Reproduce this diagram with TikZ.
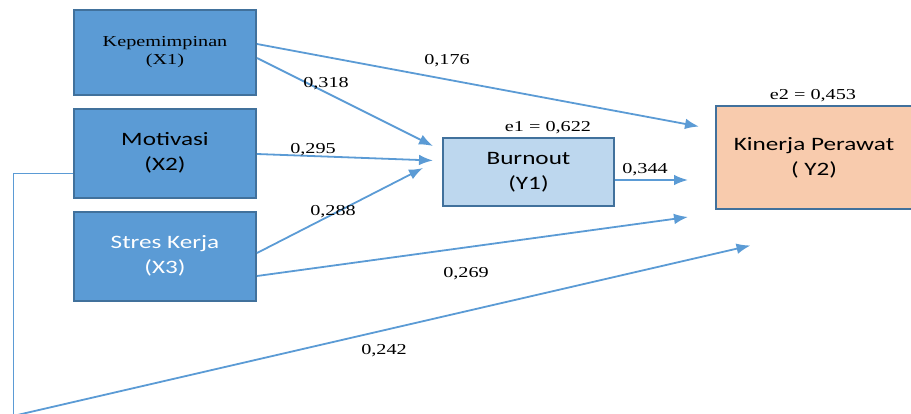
\documentclass[tikz,border=0pt]{standalone}
\usepackage{fontspec}
\setmainfont{Liberation Serif}[FakeStretch=1.33]
\newfontfamily\boxfont{Carlito}[FakeStretch=1.33]
\usepackage{xcolor}
\usetikzlibrary{arrows.meta,positioning}

\definecolor{varblue}{HTML}{5B9BD5}
\definecolor{varedge}{HTML}{41719C}
\definecolor{medblue}{HTML}{BDD7EE}
\definecolor{outpeach}{HTML}{F8CBAD}

\begin{document}
\begin{tikzpicture}[
    x=0.75pt, y=-0.75pt,
    varbox/.style={rectangle, draw=varedge, line width=1.5pt, fill=varblue, minimum width=136.5pt, align=center, inner sep=0pt},
    medbox/.style={rectangle, draw=varedge, line width=1.5pt, fill=medblue, minimum width=128.25pt, minimum height=51pt, align=center, inner sep=0pt},
    outbox/.style={rectangle, draw=varedge, line width=1.5pt, fill=outpeach, minimum width=147pt, minimum height=77.25pt, align=center, inner sep=0pt},
    sanstext/.style={font=\boxfont\fontsize{14.2}{19}\selectfont},
    coef/.style={font=\fontsize{11.4}{13}\selectfont, inner sep=0pt},
    arrow/.style={-{Latex[length=10.5pt,width=8pt]}, draw=varblue, line width=1.35pt},
    link/.style={draw=varblue, line width=0.7pt}
]
    \useasboundingbox (0,0) rectangle (911,414);

    % Independent variables
    \node[varbox, minimum height=63.75pt, font=\fontsize{11.4}{13.5}\selectfont] (x1) at (165,52.5) {Kepemimpinan\\(X1)};
    \node[varbox, minimum height=66.75pt, sanstext] (x2) at (165,153) {Motivasi\\(X2)};
    \node[varbox, minimum height=66.75pt, sanstext, text=white] (x3) at (165,256) {Stres Kerja\\(X3)};

    % Mediator
    \node[medbox, sanstext] (y1) at (528.5,172) {\raisebox{-3pt}{Burnout}\\\raisebox{-3pt}{(Y1)}};
    \node[coef] (e1) at (548,128) {e1 = 0,622};

    % Outcome
    \node[outbox, sanstext] (y2) at (814,157.5) {Kinerja Perawat\\( Y2)};
    \node[coef] (e2) at (813,96) {e2 = 0,453};

    % Free arrow ends
    \coordinate (tip1) at (699,126.5);
    \coordinate (tip2) at (688,180);
    \coordinate (tip3) at (688,217);
    \coordinate (tip4) at (750.5,245.5);
    \coordinate (bendA) at (13,173);
    \coordinate (bendB) at (13,416);

    % Paths to Y1
    \draw[arrow] (x1.east |- 0,58) -- (433,146);
    \draw[arrow] (x2.east |- 0,154) -- (433,160.5);
    \draw[arrow] (x3.east |- 0,253) -- (423,168);

    % Paths to Y2
    \draw[arrow] (x1.east |- 0,44) -- (tip1);
    \draw[arrow] (y1.east |- tip2) -- (tip2);
    \draw[arrow] (x3.east |- 0,276) -- (tip3);
    \draw[link] (x2.west |- bendA) -- (bendA) -- (bendB);
    \draw[arrow] (bendB) -- (tip4);

    % Coefficients
    \node[coef] (c176) at (447,61) {0,176};
    \node[coef] (c318) at (326,84) {0,318};
    \node[coef] (c295) at (313,150) {0,295};
    \node[coef] (c288) at (333,212) {0,288};
    \node[coef] (c344) at (645,170) {0,344};
    \node[coef] (c269) at (466,274) {0,269};
    \node[coef] (c242) at (384,351) {0,242};

\end{tikzpicture}
\end{document}
